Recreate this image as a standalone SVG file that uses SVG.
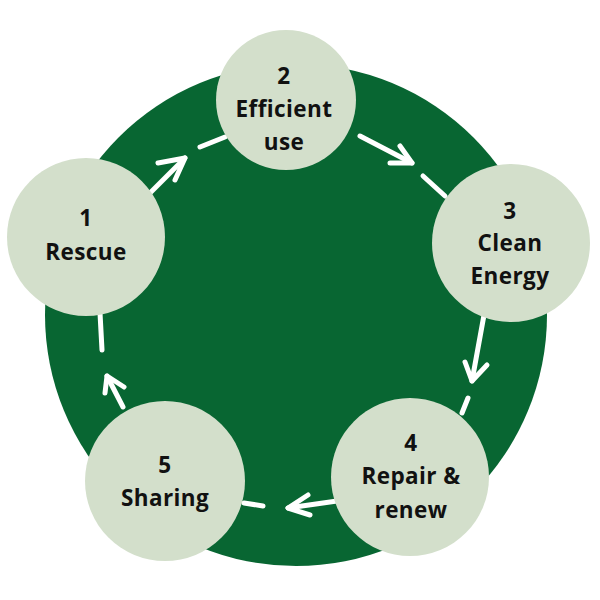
<svg xmlns="http://www.w3.org/2000/svg" width="600" height="600" viewBox="0 0 600 600">
<style>
.bg{fill:#086632}
.node{fill:#d3dfcb}
.lbl{font-family:"Open Sans","Liberation Sans",sans-serif;font-weight:700;font-size:22.5px;letter-spacing:0.4px;fill:#111111;text-anchor:middle}
.c{fill:none;stroke:#ffffff;stroke-width:5;stroke-linecap:round;stroke-linejoin:round}
</style>
<rect width="600" height="600" fill="#ffffff"/>
<circle class="bg" cx="296" cy="315" r="251"/>
<g id="connectors">
  <g id="c1-2">
    <line class="c" x1="200" y1="147" x2="225" y2="137"/>
    <line class="c" x1="140" y1="203" x2="185" y2="158"/>
    <polyline class="c" points="158,163 185,158 175,180"/>
  </g>
  <g id="c2-3">
    <line class="c" x1="360" y1="136" x2="412" y2="163"/>
    <polyline class="c" points="390,163 412,163 400,146"/>
    <line class="c" x1="423" y1="176" x2="445" y2="196"/>
  </g>
  <g id="c3-4">
    <line class="c" x1="484" y1="315" x2="472" y2="381"/>
    <polyline class="c" points="465,362 472,381 487,365"/>
    <line class="c" x1="468" y1="398" x2="462" y2="413"/>
  </g>
  <g id="c4-5">
    <line class="c" x1="337" y1="501" x2="288" y2="508"/>
    <polyline class="c" points="308,495 288,508 310,515"/>
    <line class="c" x1="263" y1="506" x2="244" y2="503"/>
  </g>
  <g id="c5-1">
    <line class="c" x1="123" y1="407" x2="107" y2="376"/>
    <polyline class="c" points="105,393 107,376 124,387"/>
    <line class="c" x1="102" y1="350" x2="100" y2="313"/>
  </g>
</g>
<g id="node1">
  <circle class="node" cx="86" cy="237" r="79"/>
  <text class="lbl" x="86" y="226">1</text>
  <text class="lbl" x="86" y="260">Rescue</text>
</g>
<g id="node2">
  <circle class="node" cx="286" cy="100" r="70"/>
  <text class="lbl" x="284" y="84">2</text>
  <text class="lbl" x="284" y="117">Efficient</text>
  <text class="lbl" x="284" y="150">use</text>
</g>
<g id="node3">
  <circle class="node" cx="511" cy="243" r="79"/>
  <text class="lbl" x="510" y="219">3</text>
  <text class="lbl" x="510" y="251">Clean</text>
  <text class="lbl" x="510" y="284">Energy</text>
</g>
<g id="node4">
  <circle class="node" cx="410" cy="477" r="79"/>
  <text class="lbl" x="411" y="451">4</text>
  <text class="lbl" x="411" y="484">Repair &amp;</text>
  <text class="lbl" x="411" y="518">renew</text>
</g>
<g id="node5">
  <circle class="node" cx="165" cy="481" r="80"/>
  <text class="lbl" x="165" y="473">5</text>
  <text class="lbl" x="165" y="506">Sharing</text>
</g>
</svg>
